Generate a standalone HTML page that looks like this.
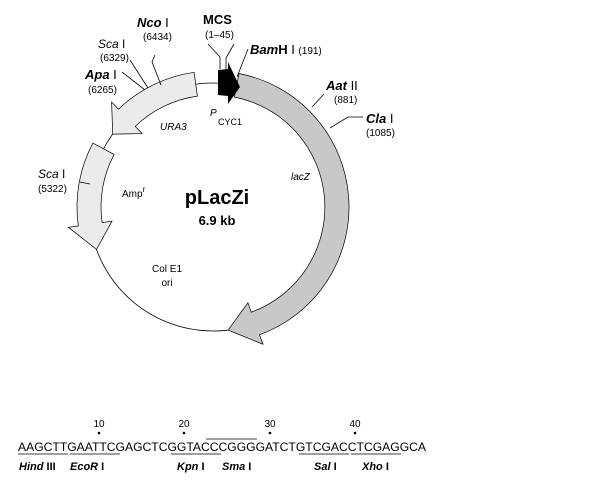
<!DOCTYPE html>
<html><head><meta charset="utf-8"><style>
html,body{margin:0;padding:0;background:#fff;}
svg{display:block;font-family:"Liberation Sans",sans-serif;}
</style></head><body>
<svg width="604" height="488" viewBox="0 0 604 488" xmlns="http://www.w3.org/2000/svg">
<rect width="604" height="488" fill="#fff"/>
<circle cx="213" cy="207" r="124" fill="none" stroke="#000" stroke-width="0.8"/>
<!-- lacZ -->
<path d="M239,73.5 A136,136 0 0 1 259.5,334.8 L262.9,344.2 L228.1,330.1 L247.9,302.8 L251.3,312.2 A112,112 0 0 0 234.4,97.1 Z" fill="#c8c8c8" stroke="#000" stroke-width="0.7"/>
<!-- URA3 -->
<path d="M194.1,72.3 A136,136 0 0 0 118.5,109.2 L111.6,102 L112.7,134.1 L142.1,133.6 L135.2,126.4 A112,112 0 0 1 197.4,96.1 Z" fill="#ebebeb" stroke="#000" stroke-width="0.7"/>
<!-- Amp -->
<path d="M92.9,143.1 A136,136 0 0 0 78.3,225.9 L68.4,227.3 L96.5,249.4 L112,221.2 L102.1,222.6 A112,112 0 0 1 114.1,154.4 Z" fill="#ebebeb" stroke="#000" stroke-width="0.7"/>
<!-- MCS black -->
<path d="M218,70 L228,69 L228,62 L240,87 L228,104 L228,96 L218,95 Z" fill="#000"/>
<g stroke="#000" stroke-width="0.8" fill="none">
<polyline points="220,69 220,57 208,44"/>
<polyline points="226,69 226,58 234,44"/>
<line x1="237" y1="77" x2="248" y2="49"/>
<line x1="161" y1="85" x2="152" y2="62"/>
<line x1="152" y1="62" x2="155" y2="55"/>
<line x1="148" y1="88" x2="130" y2="60"/>
<line x1="145" y1="90" x2="122" y2="72"/>
<line x1="312" y1="107" x2="324" y2="94"/>
<polyline points="330,128 348,117 363,117"/>
<line x1="80" y1="182" x2="90" y2="184"/>
</g>
<g font-size="11" fill="#000">
<text x="137" y="27" font-size="13" font-weight="bold" font-style="italic">Nco<tspan font-style="normal" font-weight="normal"> I</tspan></text>
<text x="143" y="40" font-size="10">(6434)</text>
<text x="98" y="48" font-style="italic" font-size="12">Sca<tspan font-style="normal"> I</tspan></text>
<text x="100" y="61" font-size="10">(6329)</text>
<text x="85" y="79" font-size="13" font-weight="bold" font-style="italic">Apa<tspan font-style="normal" font-weight="normal"> I</tspan></text>
<text x="88" y="93" font-size="10">(6265)</text>
<text x="203" y="24" font-size="13" font-weight="bold">MCS</text>
<text x="205" y="38" font-size="10">(1–45)</text>
<text x="250" y="54" font-size="13" font-weight="bold" font-style="italic">Bam<tspan font-style="normal">H</tspan><tspan font-style="normal" font-weight="normal"> I </tspan><tspan font-size="10" font-weight="normal" font-style="normal">(191)</tspan></text>
<text x="326" y="90" font-size="13" font-weight="bold" font-style="italic">Aat<tspan font-style="normal" font-weight="normal"> II</tspan></text>
<text x="334" y="103" font-size="10">(881)</text>
<text x="366" y="123" font-size="13" font-weight="bold" font-style="italic">Cla<tspan font-style="normal" font-weight="normal"> I</tspan></text>
<text x="366" y="136" font-size="10">(1085)</text>
<text x="38" y="178" font-style="italic" font-size="12">Sca<tspan font-style="normal"> I</tspan></text>
<text x="38" y="192" font-size="10">(5322)</text>
<text x="160" y="130" font-style="italic" font-size="10">URA3</text>
<text x="210" y="116" font-style="italic" font-size="10">P</text>
<text x="218" y="125" font-size="9">CYC1</text>
<text x="291" y="180" font-style="italic" font-size="10">lacZ</text>
<text x="122" y="197" font-size="10">Amp<tspan font-size="8" dy="-5">r</tspan></text>
<text x="217" y="204" font-size="20" font-weight="bold" text-anchor="middle">pLacZi</text>
<text x="217" y="225" font-size="13" font-weight="bold" text-anchor="middle">6.9 kb</text>
<text x="167" y="272" font-size="10" text-anchor="middle">Col E1</text>
<text x="167" y="286" font-size="10" text-anchor="middle">ori</text>
</g>
<!-- sequence -->
<g fill="#000" font-size="10">
<text x="99" y="427" text-anchor="middle">10</text>
<text x="184" y="427" text-anchor="middle">20</text>
<text x="270" y="427" text-anchor="middle">30</text>
<text x="355" y="427" text-anchor="middle">40</text>
<circle cx="99" cy="433" r="1.3"/><circle cx="184" cy="433" r="1.3"/><circle cx="270" cy="433" r="1.3"/><circle cx="355" cy="433" r="1.3"/>
<text x="18" y="451" font-size="12" textLength="408" lengthAdjust="spacingAndGlyphs">AAGCTTGAATTCGAGCTCGGTACCCGGGGATCTGTCGACCTCGAGGCA</text>
</g>
<g stroke="#000" stroke-width="0.8">
<line x1="18" y1="454" x2="68" y2="454"/>
<line x1="70" y1="454" x2="120" y2="454"/>
<line x1="171" y1="454" x2="221" y2="454"/>
<line x1="206" y1="439" x2="257" y2="439"/>
<line x1="299" y1="454" x2="349" y2="454"/>
<line x1="351" y1="454" x2="401" y2="454"/>
</g>
<g font-size="11" font-weight="bold" font-style="italic" fill="#000">
<text x="19" y="470">Hind<tspan font-style="normal"> III</tspan></text>
<text x="70" y="470">EcoR<tspan font-style="normal"> I</tspan></text>
<text x="177" y="470">Kpn<tspan font-style="normal"> I</tspan></text>
<text x="222" y="470">Sma<tspan font-style="normal"> I</tspan></text>
<text x="314" y="470">Sal<tspan font-style="normal"> I</tspan></text>
<text x="362" y="470">Xho<tspan font-style="normal"> I</tspan></text>
</g>
</svg>
</body></html>
